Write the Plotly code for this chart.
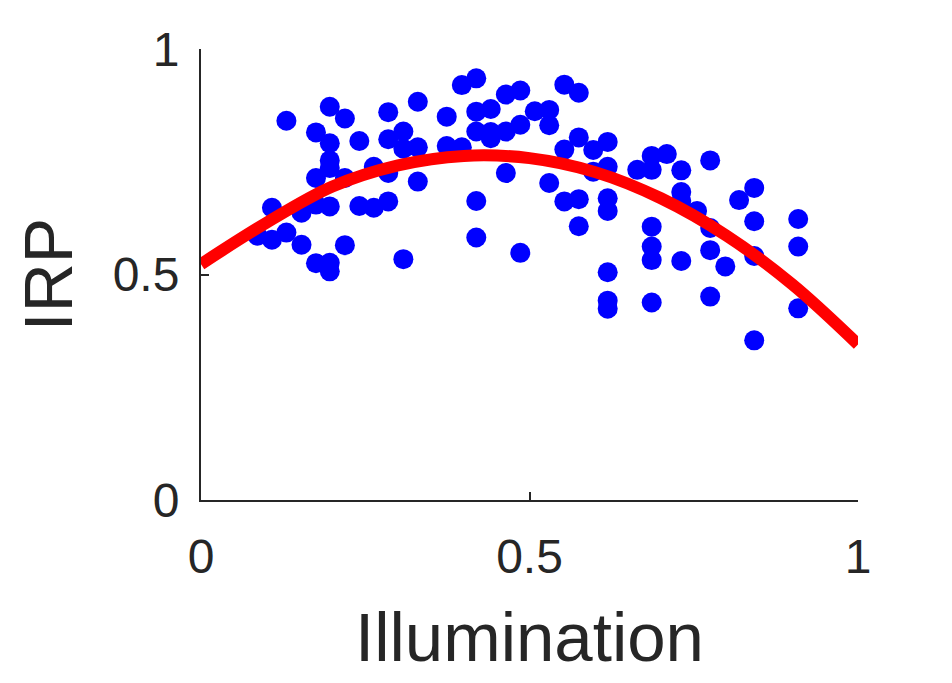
import plotly.graph_objects as go

# Scatter data (Illumination, IRP)
illum = [
    0.086, 0.108, 0.108, 0.130, 0.130, 0.153, 0.153,
    0.175, 0.175, 0.175, 0.175,
    0.196, 0.196, 0.196, 0.196, 0.196, 0.196, 0.196,
    0.219, 0.219, 0.219, 0.241, 0.241, 0.263, 0.263,
    0.285, 0.285, 0.285, 0.285, 0.308, 0.308, 0.308,
    0.330, 0.330, 0.330, 0.374, 0.374, 0.397, 0.397,
    0.419, 0.419, 0.419, 0.419, 0.419,
    0.441, 0.441, 0.441, 0.464, 0.464, 0.464,
    0.486, 0.486, 0.486, 0.508,
    0.530, 0.530, 0.530, 0.553, 0.553, 0.553,
    0.575, 0.575, 0.575, 0.575, 0.597, 0.597,
    0.619, 0.619, 0.619, 0.619, 0.619, 0.619, 0.619,
    0.664, 0.686, 0.686, 0.686, 0.686, 0.686, 0.686,
    0.709, 0.731, 0.731, 0.731, 0.731, 0.755,
    0.775, 0.775, 0.775, 0.775, 0.798, 0.819,
    0.842, 0.842, 0.842, 0.842, 0.909, 0.909, 0.909,
]
irp = [
    0.586, 0.648, 0.577, 0.841, 0.593, 0.637, 0.566,
    0.815, 0.714, 0.655, 0.525,
    0.872, 0.791, 0.753, 0.736, 0.651, 0.526, 0.507,
    0.846, 0.714, 0.565, 0.796, 0.652, 0.739, 0.648,
    0.860, 0.800, 0.725, 0.662, 0.817, 0.779, 0.534,
    0.883, 0.782, 0.706, 0.850, 0.785, 0.920, 0.782,
    0.935, 0.861, 0.817, 0.663, 0.582,
    0.867, 0.816, 0.802, 0.899, 0.817, 0.725,
    0.908, 0.832, 0.548, 0.862,
    0.865, 0.831, 0.703, 0.921, 0.777, 0.662,
    0.903, 0.804, 0.667, 0.607, 0.776, 0.728,
    0.794, 0.739, 0.669, 0.641, 0.505, 0.442, 0.424,
    0.732, 0.763, 0.732, 0.606, 0.562, 0.532, 0.438,
    0.767, 0.731, 0.683, 0.663, 0.530, 0.641,
    0.753, 0.603, 0.554, 0.451, 0.518, 0.665,
    0.692, 0.618, 0.541, 0.354, 0.623, 0.562, 0.425,
]

# Fitted curve
fit_x = [0.0, 0.1, 0.2, 0.3, 0.4, 0.5, 0.6, 0.7, 0.8, 0.9, 1.0]
fit_y = [0.523, 0.615, 0.695, 0.742, 0.763, 0.758, 0.727, 0.669, 0.586, 0.478, 0.345]

x_ticks = [0, 0.5, 1]
x_tick_text = ["0", "0.5", "1"]
y_ticks = [0, 0.5, 1]
y_tick_text = ["0", "0.5", "1"]

axis_color = "#262626"
font_family = "Liberation Sans, Arial, Helvetica, sans-serif"

fig = go.Figure()
fig.add_trace(go.Scatter(
    x=illum, y=irp, mode="markers",
    marker=dict(color="#0000FF", size=20, line=dict(width=0)),
    cliponaxis=False, showlegend=False,
))
fig.add_trace(go.Scatter(
    x=fit_x, y=fit_y, mode="lines",
    line=dict(color="#FF0000", width=12, shape="spline"),
    cliponaxis=False, showlegend=False,
))

# The page body adds an 8px offset; margins compensate for it.
fig.update_layout(
    width=952, height=683,
    margin=dict(l=193, r=102, t=41, b=191, autoexpand=False),
    paper_bgcolor="white", plot_bgcolor="white",
    font=dict(family=font_family, color=axis_color),
    showlegend=False,
)
fig.update_xaxes(
    range=[0, 1], tickvals=x_ticks, ticktext=x_tick_text,
    automargin=False,
    showline=True, linecolor=axis_color, linewidth=2,
    ticks="inside", ticklen=8, tickwidth=2, tickcolor=axis_color,
    showgrid=False, zeroline=False,
    tickfont=dict(size=48, color=axis_color, family=font_family),
    ticklabelstandoff=13,
    title=dict(text="Illumination", font=dict(size=69, color=axis_color, family=font_family), standoff=31),
)
fig.update_yaxes(
    range=[0, 1], tickvals=y_ticks, ticktext=y_tick_text,
    automargin=False,
    showline=True, linecolor=axis_color, linewidth=2,
    ticks="inside", ticklen=8, tickwidth=2, tickcolor=axis_color,
    showgrid=False, zeroline=False,
    tickfont=dict(size=48, color=axis_color, family=font_family),
    ticklabelstandoff=10,
    title=dict(text="IRP", font=dict(size=68, color=axis_color, family=font_family), standoff=18),
)

fig.write_html("out.html")
